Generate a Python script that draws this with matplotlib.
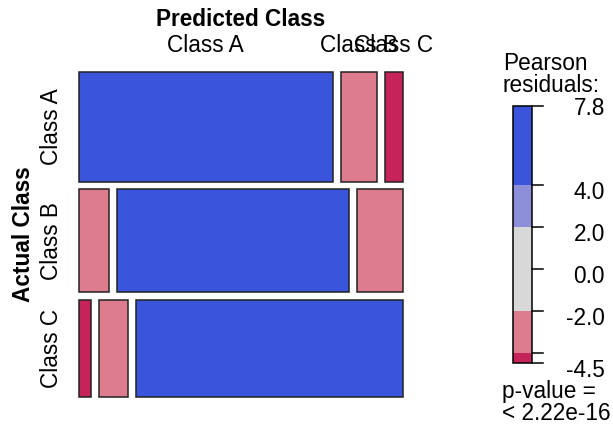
import numpy as np
import matplotlib
matplotlib.use("Agg")
from matplotlib import pyplot as plt
from matplotlib.patches import Rectangle

plt.rcParams["font.family"] = ["Liberation Sans", "DejaVu Sans"]

classes = ["Class A", "Class B", "Class C"]
# rows = actual class, columns = predicted class
counts = np.array([
    [70, 10, 5],
    [8, 60, 12],
    [3, 7, 65],
])

# shading breaks and colours for the Pearson residuals
breaks = [-4.0, -2.0, 2.0, 4.0]
shade_colors = ["#c6235a", "#dc7c8e", "#d8d8d8", "#8d8ed8", "#3a55dc"]


def pearson_residuals(obs):
    n = obs.sum()
    expected = np.outer(obs.sum(axis=1), obs.sum(axis=0)) / n
    return (obs - expected) / np.sqrt(expected)


def shade(value):
    return shade_colors[int(np.searchsorted(breaks, value))]


res = pearson_residuals(counts)

fig = plt.figure(figsize=(6.13, 4.24), dpi=100)
ax = fig.add_axes([0, 0, 1, 1])
ax.set_xlim(0, 613)
ax.set_ylim(424, 0)
ax.axis("off")

# mosaic area (pixel units)
x0, x1 = 78.5, 403.0
y0, y1 = 72.0, 396.5
gap_x, gap_y = 8.0, 7.5
fs = 16.3

row_tot = counts.sum(axis=1)
heights = (y1 - y0 - gap_y * (len(classes) - 1)) * row_tot / row_tot.sum()

y = y0
for i, h in enumerate(heights):
    widths = (x1 - x0 - gap_x * (len(classes) - 1)) * counts[i] / row_tot[i]
    x = x0
    for j, w in enumerate(widths):
        ax.add_patch(Rectangle((x, y), w, h, facecolor=shade(res[i, j]),
                               edgecolor="#222222", linewidth=1.1))
        if i == 0:
            ax.text(x + w / 2, 46, classes[j], ha="center", va="center", fontsize=fs)
        x += w + gap_x
    ax.text(52, y + h / 2, classes[i], ha="center", va="center",
            rotation=90, fontsize=fs)
    y += h + gap_y

ax.text((x0 + x1) / 2, 19, "Predicted Class", ha="center", va="center",
        fontsize=fs, fontweight="bold")
ax.text(24, (y0 + y1) / 2, "Actual Class", ha="center", va="center",
        rotation=90, fontsize=fs, fontweight="bold")

# legend bar
lx0, lx1 = 512.5, 531.5
ly_top, ly_bot = 105.7, 362.7
rmin, rmax = res.min(), res.max()


def to_y(v):
    return ly_bot - (v - rmin) / (rmax - rmin) * (ly_bot - ly_top)


edges = [rmin] + [b for b in breaks if rmin < b < rmax] + [rmax]
for lo, hi in zip(edges[:-1], edges[1:]):
    ax.add_patch(Rectangle((lx0, to_y(hi)), lx1 - lx0, to_y(lo) - to_y(hi),
                           facecolor=shade((lo + hi) / 2), edgecolor="none"))
ax.add_patch(Rectangle((lx0, ly_top), lx1 - lx0, ly_bot - ly_top,
                       facecolor="none", edgecolor="black", linewidth=1.1))

tick_vals = [rmax, 4.0, 2.0, 0.0, -2.0, -4.0, rmin]
for v in tick_vals:
    ty = to_y(v)
    ax.plot([lx1, 543], [ty, ty], color="black", linewidth=1.1)
    if v == -4.0:
        continue
    offset = 2.5 if v == rmax else 7.5
    ax.text(605, ty + offset, f"{v:.1f}", ha="right", va="center", fontsize=fs)

ax.text(503, 52, "Pearson\nresiduals:", ha="left", va="top", fontsize=fs,
        linespacing=0.95)
ax.text(502, 380, "p-value =\n< 2.22e-16", ha="left", va="top", fontsize=fs,
        linespacing=0.95)

fig.savefig("out.png", dpi=100)
